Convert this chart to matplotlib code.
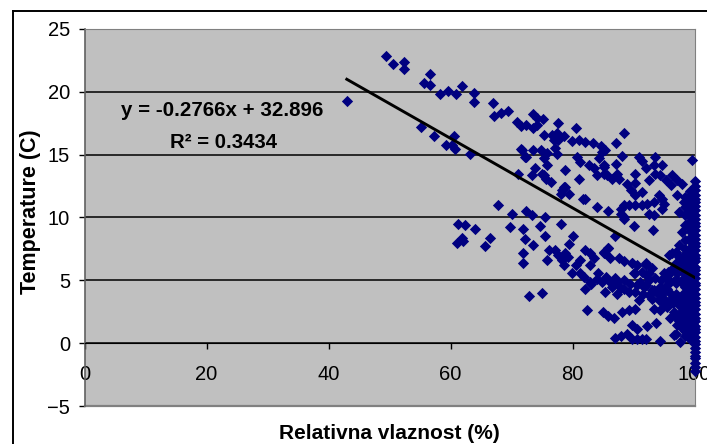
import matplotlib
matplotlib.use("Agg")
import matplotlib.pyplot as plt
from matplotlib.lines import Line2D

# Scattered points (humidity %, temperature C)
hum_upper = [43.0,49.4,50.6,52.3,52.3,56.6,55.6,56.6,58.2,59.6,60.9,61.9,63.8,63.8,66.9,69.5,68.3,67.2,70.9,71.6,72.3,
             55.2,57.3,60.5,59.3,60.2,60.7,63.2,71.7,72.2,71.0,73.6,74.2,75.1,73.6,74.2,75.3,77.6,80.5,76.6,77.5,78.6,
             77.7,76.9,79.9,81.0,82.0,83.4,84.7,77.2,77.5,71.6,73.6,74.9,75.8,72.3,75.3,75.8,73.8,73.4,75.0,75.7,76.4,
             78.8,81.0,80.7,81.3,82.7,83.5,84.9,84.3,85.1,84.0,85.1,88.4,87.2,85.4,88.1,90.9,91.4,93.6,99.6,87.2,85.1,
             94.7,92.0,93.3,90.3,85.7,87.3,86.5,87.6,88.9,90.3,92.5,93.6,94.4,95.3,96.3,97.2,96.1,98.0,89.6,91.4,90.3,
             97.2,94.1,94.7,95.0,94.7,93.3,92.2,91.4,90.3,89.2,88.4,87.9,85.9,87.9,88.4,92.5,93.4,97.4,98.2,99.0,
             75.3,78.6,78.1,79.5,81.7,82.0,78.3,78.7,84.0]
temp_upper = [19.25,22.85,22.2,22.4,21.85,21.4,20.7,20.55,19.85,20.1,19.85,20.5,19.9,19.2,19.15,18.45,18.3,18.05,17.6,17.3,17.35,
              17.2,16.5,16.5,15.8,15.8,15.45,15.05,15.4,14.8,13.5,18.2,17.9,17.85,17.1,17.35,16.55,17.5,17.15,16.55,16.7,16.45,
              16.15,16.15,16.05,16.15,16.0,15.9,15.65,15.5,15.05,15.45,15.35,15.35,15.1,14.85,14.7,14.2,13.9,13.4,13.45,13.1,12.85,
              13.8,13.05,14.85,14.4,14.2,13.9,15.25,14.7,14.2,13.4,13.5,16.7,15.9,15.35,14.9,14.85,14.5,14.85,14.55,14.25,14.05,
              14.2,13.9,14.2,13.5,13.4,13.5,13.1,13.1,12.7,12.75,13.0,13.5,13.4,13.0,13.4,13.0,12.6,12.7,12.15,12.0,11.8,
              11.8,11.8,11.45,11.1,10.7,11.25,11.05,11.0,11.0,11.0,11.0,10.7,10.55,10.25,10.05,10.25,10.2,10.45,11.25,11.0,
              13.4,12.4,11.9,11.85,11.5,11.45,12.2,12.45,10.85]

hum_middle = [67.8,70.0,72.4,69.8,71.9,72.2,71.9,71.9,61.3,62.3,64.0,66.4,65.7,61.0,61.9,62.0,72.8,75.0,
              73.4,75.5,74.6,78.1,75.5,73.6,80.0,79.5,75.8,76.1,77.2,77.7,78.8,79.3,78.3,82.1,82.9,83.5,81.3,85.1,
              88.4,90.0,93.2,86.9,85.9,85.1,97.4,95.8,96.9,98.0,85.9,85.4,86.2,87.6,88.4,89.8,90.6,92.0,93.0,92.5,
              90.0,91.4,96.3,97.4,96.9,96.1,97.2,98.2,98.2]
temp_middle = [11.0,10.3,10.5,9.25,9.1,8.25,7.2,6.35,9.5,9.4,9.1,8.4,7.7,8.0,8.4,8.1,3.75,4.0,
               10.2,10.0,9.35,9.5,8.5,7.8,8.55,7.9,6.6,7.4,7.4,7.0,7.15,6.85,6.6,7.4,7.15,6.75,6.6,7.15,
               9.9,9.35,9.0,8.5,7.6,7.25,7.8,7.0,7.25,8.85,7.55,7.15,6.75,6.75,6.5,6.35,6.2,6.2,6.0,5.55,
               5.55,5.7,7.15,6.85,6.35,5.7,5.55,5.55,6.2]

hum_lower = [79.9,78.6,80.5,82.9,84.1,81.3,89.8,92.0,90.3,92.0,95.7,81.9,82.9,82.0,84.9,85.4,86.2,87.3,87.3,88.4,89.2,
             90.3,90.6,92.5,92.0,93.3,94.4,95.5,96.9,98.2,94.1,95.2,90.9,93.3,94.4,95.5,96.6,98.2,90.3,89.2,88.1,85.0,
             85.8,86.8,82.4,89.8,90.6,92.2,93.7,97.2,96.6,97.7,94.4,87.0,87.9,89.0,89.8,90.6,91.4,92.0,98.2,95.0,
             84.0,85.5,87.0,88.5,89.5,91.0,92.5,93.5,94.5,95.5,96.0,97.0,98.0,99.0,93.0,94.0,95.0,96.0,97.0,98.0,99.0,
             96.5,97.5,98.5,97.5,98.5,99.0,98.8,95.5,
             83.0,86.5,88.0,91.5,93.0,94.8,96.2,97.6,95.0,96.4,97.8,96.8,97.4,98.0,91.8,97.0,96.0]
temp_lower = [5.55,6.2,6.2,6.2,5.55,5.55,6.35,6.35,5.55,5.4,5.7,5.3,4.9,4.35,4.9,4.1,4.9,4.9,3.95,4.35,4.1,
              4.1,4.6,3.8,4.6,4.2,4.5,4.6,4.75,4.6,3.4,3.3,3.4,2.75,2.65,2.9,2.5,2.65,2.7,2.65,2.5,2.5,
              2.15,2.0,2.65,1.45,1.15,1.35,1.6,1.45,0.65,0.1,0.15,0.45,0.55,0.75,0.35,0.3,0.35,0.35,1.45,3.15,
              5.1,5.3,5.2,5.0,4.7,4.9,5.0,5.2,5.0,5.2,4.9,5.1,5.0,4.8,4.2,3.9,4.1,4.0,3.9,3.8,3.9,
              3.2,3.0,3.2,2.3,2.1,1.5,0.8,4.3,
              4.7,4.5,4.4,3.9,3.5,3.6,3.5,3.4,5.6,6.0,6.3,2.2,1.8,1.2,4.5,0.7,2.0]

# Saturated readings, stacked near 100 % humidity
temp_at_100 = [-2.2,-1.9,-1.6,-1.2,-1.0,-0.7,-0.4,-0.1,0.2,0.5,0.9,1.1,1.4,1.8,2.0,2.3,2.7,3.0,3.3,3.6,3.9,4.3,4.6,4.8,
               5.2,5.5,5.8,6.1,6.5,6.8,7.0,7.4,7.7,8.0,8.3,8.6,9.0,9.3,9.6,9.9,10.2,10.6,10.9,11.2,11.5,11.8,12.2,12.5,12.9]
temp_at_99 = [0.3,0.7,1.2,1.6,2.2,2.6,3.1,3.5,4.1,4.4,5.0,5.4,5.9,6.3,6.7,7.2,7.6,8.1,8.4,8.9,9.2,9.7,10.1,10.4,10.9,11.3,11.7,12.1]
temp_at_98 = [0.6,1.0,1.9,2.4,2.8,3.4,4.0,4.5,5.2,5.7,6.5,7.1,7.5,8.2,9.4,10.2,10.8,11.6]

fit_hum = [43, 100]
fit_temp = [21.0, 5.236]

x_ticks = [0, 20, 40, 60, 80, 100]
y_ticks = [-5, 0, 5, 10, 15, 20, 25]

plt.rcParams['font.family'] = ['Liberation Sans', 'DejaVu Sans']
W, H = 707, 444
fig = plt.figure(figsize=(W/100, H/100), dpi=100, facecolor='white')
ax = fig.add_axes([84.5/W, 1-406/H, 610/W, 377/H], facecolor='#C0C0C0')
ax.set_xlim(0, 100)
ax.set_ylim(-5, 25)
ax.set_xticks(x_ticks)
ax.set_yticks(y_ticks)
ax.yaxis.grid(True, color='black', lw=1.1, zorder=1)
ax.set_axisbelow(True)

for s in ['top', 'right']:
    ax.spines[s].set_color('#808080')
ax.spines['left'].set_color('#606060')
ax.spines['left'].set_linewidth(1.2)
ax.spines['bottom'].set_position(('data', 0))
ax.spines['bottom'].set_color('black')
ax.axhline(-5, color='#808080', lw=1.6, clip_on=False, zorder=1)
ax.tick_params(axis='x', direction='out', length=4.5, width=1, pad=11, labelsize=14.5)
ax.tick_params(axis='y', direction='out', length=4.5, width=1, pad=6, labelsize=14.5)

marker = dict(marker='D', s=33, color='#000080', linewidths=0, zorder=3, clip_on=False)
ax.scatter(hum_upper, temp_upper, **marker)
ax.scatter(hum_middle, temp_middle, **marker)
ax.scatter(hum_lower, temp_lower, **marker)
ax.scatter([100]*len(temp_at_100), temp_at_100, **marker)
ax.scatter([99.2]*len(temp_at_99), temp_at_99, **marker)
ax.scatter([98.4]*len(temp_at_98), temp_at_98, **marker)
ax.plot(fit_hum, fit_temp, color='black', lw=2.1, zorder=4)

fig.text(222.5/W, 1-111/H, 'y = -0.2766x + 32.896', fontsize=14.8, fontweight='bold', ha='center', va='center')
fig.text(223.5/W, 1-142/H, 'R² = 0.3434', fontsize=14.7, fontweight='bold', ha='center', va='center')
fig.text(389/W, 1-433/H, 'Relativna vlaznost (%)', fontsize=15, fontweight='bold', ha='center', va='center')
fig.text(31/W, 1-212/H, 'Temperature (C)', fontsize=15.5, fontweight='bold', rotation=90, ha='center', va='center')

for xs, ys in [((13, 13), (11, 444)), ((13, 707), (11, 11))]:
    fig.add_artist(Line2D([x/W for x in xs], [1-y/H for y in ys], color='black', lw=1.4))

fig.savefig('out.png', dpi=100)
